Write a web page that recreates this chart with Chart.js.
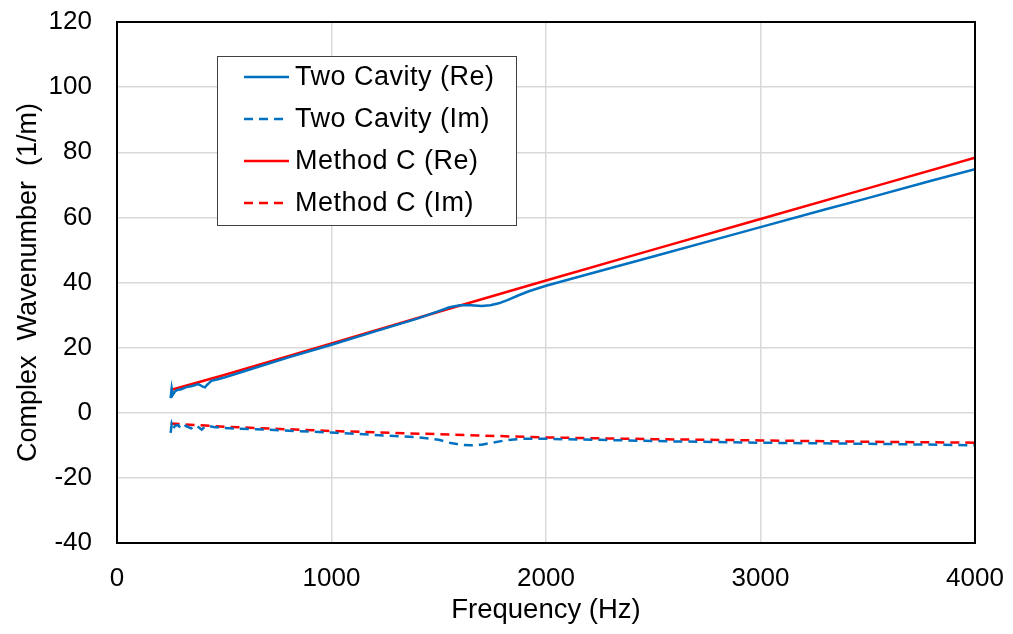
<!DOCTYPE html>
<html>
<head>
<meta charset="utf-8">
<script src="https://cdn.jsdelivr.net/npm/chart.js@4/dist/chart.umd.min.js"></script>
<style>
  body { margin: 0; background: #fff; }
  #chart { display: block; }
</style>
</head>
<body>
<canvas id="chart" width="1013" height="634"></canvas>
<script>
// frequency axis (Hz) and values (1/m)
const xTicks = [0, 1000, 2000, 3000, 4000];
const yTicks = [-40, -20, 0, 20, 40, 60, 80, 100, 120];

const twoReFreq = [250, 255, 260, 270, 280, 300, 320, 350, 380, 400, 410, 420, 440, 470, 500, 600, 800, 1000, 1200, 1400, 1500, 1550, 1600, 1650, 1700, 1740, 1780, 1820, 1870, 1920, 2000, 2200, 2500, 2800, 3000, 3300, 3500, 3800, 4000];
const twoReVals = [4.5, 7.5, 5.5, 6.5, 7.0, 7.2, 7.8, 8.2, 8.8, 8.0, 7.8, 8.6, 9.8, 10.3, 10.8, 12.9, 17.0, 20.9, 24.9, 28.9, 31.2, 32.4, 33.0, 33.0, 32.8, 33.0, 33.6, 34.6, 36.0, 37.3, 39.0, 42.6, 48.0, 53.4, 57.0, 62.4, 65.9, 71.3, 74.8];

const twoImFreq = [250, 255, 262, 270, 285, 300, 320, 345, 370, 395, 410, 425, 450, 500, 700, 1000, 1200, 1400, 1500, 1550, 1600, 1650, 1700, 1750, 1800, 1850, 1900, 2000, 2300, 2600, 3000, 3300, 3600, 4000];
const twoImVals = [-6.2, -3.5, -5.0, -4.0, -3.8, -5.0, -4.0, -4.8, -3.9, -5.2, -4.2, -4.0, -4.4, -4.7, -5.2, -6.1, -6.8, -7.5, -8.3, -9.2, -9.8, -10.0, -9.8, -9.2, -8.6, -8.2, -8.0, -8.0, -8.4, -8.8, -9.2, -9.4, -9.6, -10.0];

const methReFreq = [250, 500, 1000, 1500, 2000, 2500, 3000, 3500, 4000];
const methReVals = [7.0, 11.6, 21.3, 31.0, 40.6, 50.1, 59.5, 68.9, 78.3];

const methImFreq = [250, 500, 1000, 1500, 2000, 2500, 3000, 3500, 4000];
const methImVals = [-3.3, -4.3, -5.6, -6.6, -7.6, -8.1, -8.5, -8.9, -9.2];

const FONT = "'Liberation Sans', Arial, sans-serif";
const BLUE = '#0070C0';
const RED = '#FF0000';

function toPoints(xs, ys) {
    return xs.map((x, i) => ({ x: x, y: ys[i] }));
}

function makeSeries(label, xs, ys, color, dashed) {
    return {
        label: label,
        data: toPoints(xs, ys),
        borderColor: color,
        backgroundColor: color,
        borderWidth: 2.5,
        borderDash: dashed ? [9, 6] : [],
        showLine: true,
        pointRadius: 0,
        tension: 0,
    };
}

// plot area frame, drawn over the series like in the original
const frame = {
    id: 'frame',
    afterDatasetsDraw(chart) {
        const { ctx, chartArea: a } = chart;
        ctx.save();
        ctx.strokeStyle = '#000';
        ctx.lineWidth = 2;
        ctx.strokeRect(a.left, a.top, a.right - a.left, a.bottom - a.top);
        ctx.restore();
    }
};

// boxed legend inside the plot
const boxLegend = {
    id: 'boxLegend',
    afterDraw(chart) {
        const ctx = chart.ctx;
        const x0 = 217, y0 = 56, w = 299, h = 169;
        ctx.save();
        ctx.fillStyle = '#fff';
        ctx.fillRect(x0, y0, w, h);
        ctx.strokeStyle = '#404040';
        ctx.lineWidth = 1;
        ctx.strokeRect(x0 + 0.5, y0 + 0.5, w, h);
        ctx.font = '27px ' + FONT;
        ctx.letterSpacing = '0.5px';
        ctx.textBaseline = 'middle';
        ctx.fillStyle = '#000';
        chart.data.datasets.forEach((ds, i) => {
            const y = 77 + i * 42;
            ctx.beginPath();
            ctx.strokeStyle = ds.borderColor;
            ctx.lineWidth = 2.5;
            ctx.setLineDash(ds.borderDash);
            ctx.moveTo(244, y);
            ctx.lineTo(289, y);
            ctx.stroke();
            ctx.setLineDash([]);
            ctx.fillText(ds.label, 295, y + 1);
        });
        ctx.restore();
    }
};

const config = {
    type: 'scatter',
    data: {
        datasets: [
            makeSeries('Two Cavity (Re)', twoReFreq, twoReVals, BLUE, false),
            makeSeries('Two Cavity (Im)', twoImFreq, twoImVals, BLUE, true),
            makeSeries('Method C (Re)', methReFreq, methReVals, RED, false),
            makeSeries('Method C (Im)', methImFreq, methImVals, RED, true),
        ],
    },
    options: {
        responsive: false,
        animation: false,
        devicePixelRatio: 1,
        layout: {
            padding: { top: 22, right: 38, left: 0, bottom: 0 }
        },
        plugins: {
            legend: { display: false },
            tooltip: { enabled: false },
        },
        scales: {
            x: {
                type: 'linear',
                min: xTicks[0],
                max: xTicks[xTicks.length - 1],
                afterBuildTicks: (scale) => { scale.ticks = xTicks.map(v => ({ value: v })); },
                afterFit: (scale) => {
                    scale.height = 91;
                    scale.paddingLeft = 0;
                    scale.paddingRight = 0;
                },
                ticks: {
                    font: { family: FONT, size: 26 },
                    color: '#000',
                    padding: 20,
                    maxRotation: 0,
                    callback: (v) => String(v),
                },
                grid: { color: '#d9d9d9', lineWidth: 1.5, drawTicks: false },
                border: { display: true, color: '#000', width: 2 },
                title: {
                    display: true,
                    text: 'Frequency (Hz)',
                    font: { family: FONT, size: 27.5 },
                    color: '#000',
                    padding: { bottom: 7 },
                },
            },
            y: {
                type: 'linear',
                min: yTicks[0],
                max: yTicks[yTicks.length - 1],
                afterBuildTicks: (scale) => { scale.ticks = yTicks.map(v => ({ value: v })); },
                afterFit: (scale) => {
                    scale.width = 117;
                    scale.paddingTop = 0;
                    scale.paddingBottom = 0;
                },
                ticks: {
                    font: { family: FONT, size: 26 },
                    color: '#000',
                    padding: 25,
                    callback: (v) => String(v),
                },
                grid: { color: '#d9d9d9', lineWidth: 1.5, drawTicks: false },
                border: { display: true, color: '#000', width: 2 },
                title: {
                    display: true,
                    text: 'Complex  Wavenumber  (1/m)',
                    font: { family: FONT, size: 27 },
                    color: '#000',
                    padding: { top: 12 },
                },
            },
        },
    },
    plugins: [frame, boxLegend],
};

new Chart(document.getElementById('chart'), config);
</script>
</body>
</html>
